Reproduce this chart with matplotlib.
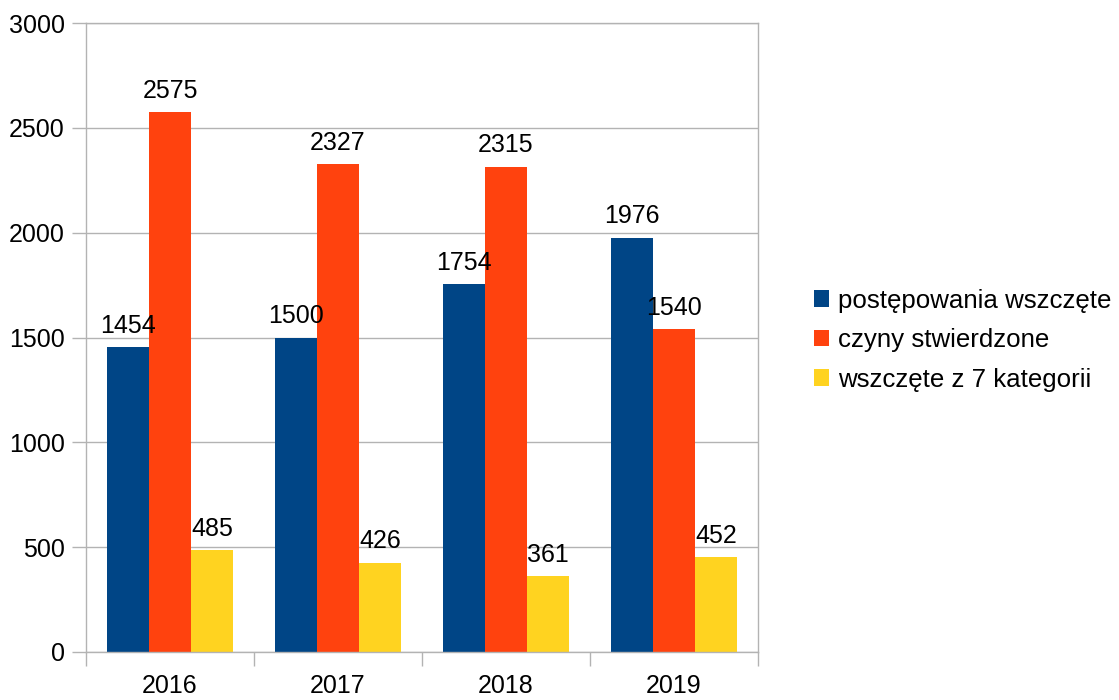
import numpy as np
import matplotlib.pyplot as plt
from matplotlib.patches import Patch

years = ['2016', '2017', '2018', '2019']
wszczete = [1454, 1500, 1754, 1976]
stwierdzone = [2575, 2327, 2315, 1540]
kategorie = [485, 426, 361, 452]

labels = ['postępowania wszczęte', 'czyny stwierdzone', 'wszczęte z 7 kategorii']
colors = ['#004586', '#ff420e', '#ffd320']

plt.rcParams['font.family'] = ['Liberation Sans', 'DejaVu Sans']
grid_col = '#b3b3b3'
fs = 18

fig = plt.figure(figsize=(11.19, 7.0), dpi=100)
ax = fig.add_axes([0.0769, 0.0686, 0.6005, 0.8984])

x = np.arange(len(years))
w = 0.25
for i, (vals, c) in enumerate(zip([wszczete, stwierdzone, kategorie], colors)):
    pos = x + (i - 1) * w
    ax.bar(pos, vals, width=w, color=c, zorder=2)
    for p, v in zip(pos, vals):
        ax.text(p, v + 45, str(v), ha='center', va='bottom', fontsize=fs)

ax.set_xlim(-0.5, 3.5)
ax.set_ylim(0, 3000)
ax.set_yticks(range(0, 3001, 500))
ax.yaxis.grid(True, color=grid_col, linewidth=1, zorder=0)

# category boundaries as ticks, labels in the middle
ax.set_xticks(np.arange(-0.5, 4, 1))
ax.set_xticklabels([])
ax.set_xticks(x, minor=True)
ax.set_xticklabels(years, minor=True, fontsize=fs)
ax.tick_params(axis='x', which='minor', length=0, pad=16)
ax.tick_params(axis='x', which='major', length=10, color=grid_col, width=1)
ax.tick_params(axis='y', length=10, color=grid_col, width=1, labelsize=fs, pad=5.5)

for s in ax.spines.values():
    s.set_color(grid_col)
    s.set_linewidth(1)

handles = [Patch(facecolor=c, label=l) for c, l in zip(colors, labels)]
fig.legend(handles=handles, loc='center left', bbox_to_anchor=(0.727, 0.514),
           frameon=False, fontsize=18.6, handlelength=0.6, handleheight=0.6,
           handletextpad=0.35, labelspacing=0.6, borderpad=0, borderaxespad=0)

fig.savefig('out.png', dpi=100)
